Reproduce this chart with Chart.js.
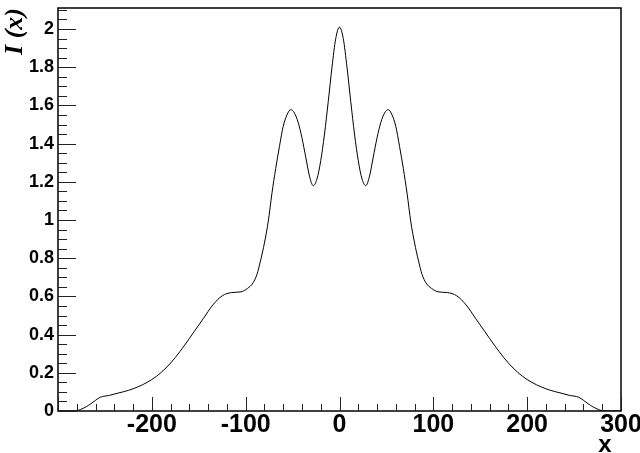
<!DOCTYPE html>
<html>
<head>
<meta charset="utf-8">
<script src="https://cdn.jsdelivr.net/npm/chart.js@4.4.0/dist/chart.umd.min.js"></script>
<style>
  html, body { margin: 0; padding: 0; background: #fff; }
  #wrap { width: 640px; height: 453px; position: relative; }
</style>
</head>
<body>
<div id="wrap"><canvas id="intensity"></canvas></div>
<script>
// curve I(x)
const xValues = [
  -300, -290, -282, -276, -270, -265, -260, -255, -245, -235, -225, -215, -205, -195,
  -185, -175, -165, -155, -145, -135, -125, -115, -105, -98, -92, -88, -84, -80, -76,
  -72, -68, -64, -60, -56, -52, -48, -44, -40, -36, -32, -28, -24, -20, -16, -12, -8, -4,
  0,
  4, 8, 12, 16, 20, 24, 28, 32, 36, 40, 44, 48, 52, 56, 60, 64, 68, 72,
  76, 80, 84, 88, 92, 98, 105, 115, 125, 135, 145, 155, 165, 175, 185,
  195, 205, 215, 225, 235, 245, 255, 260, 265, 270, 276, 282, 290, 300
];
const yValues = [
  0, 0, 0, 0.008, 0.022, 0.038, 0.056, 0.072, 0.082, 0.095, 0.108, 0.126, 0.15, 0.182,
  0.225, 0.28, 0.345, 0.415, 0.485, 0.555, 0.603, 0.62, 0.624, 0.642, 0.672, 0.715, 0.79, 0.88, 0.99,
  1.14, 1.27, 1.385, 1.49, 1.55, 1.578, 1.56, 1.51, 1.43, 1.33, 1.23, 1.18, 1.215, 1.31, 1.45, 1.62, 1.8, 1.95,
  2.01,
  1.95, 1.8, 1.62, 1.45, 1.31, 1.215, 1.18, 1.23, 1.33, 1.43, 1.51, 1.56, 1.578, 1.55, 1.49, 1.385, 1.27, 1.14,
  0.99, 0.88, 0.79, 0.715, 0.672, 0.642, 0.624, 0.62, 0.603, 0.555, 0.485, 0.415, 0.345, 0.28, 0.225,
  0.182, 0.15, 0.126, 0.108, 0.095, 0.082, 0.072, 0.056, 0.038, 0.022, 0.008, 0, 0, 0
];

const xTickValues = [-300, -200, -100, 0, 100, 200, 300];
const xTickLabels = ['', '-200', '-100', '0', '100', '200', '300'];
const yTickValues = [0, 0.2, 0.4, 0.6, 0.8, 1, 1.2, 1.4, 1.6, 1.8, 2];
const yTickLabels = ['0', '0.2', '0.4', '0.6', '0.8', '1', '1.2', '1.4', '1.6', '1.8', '2'];
const xTitle = 'x';

const points = xValues.map((x, i) => ({ x: x, y: yValues[i] }));

// ROOT style frame with ticks pointing inwards
const frameTicks = {
  id: 'frameTicks',
  afterDraw(chart) {
    const ctx = chart.ctx;
    const area = chart.chartArea;
    const xs = chart.scales.x;
    const ys = chart.scales.y;
    ctx.save();
    ctx.strokeStyle = '#000';
    ctx.lineWidth = 1.5;
    ctx.strokeRect(area.left, area.top, area.right - area.left, area.bottom - area.top);

    ctx.lineWidth = 1;
    ctx.strokeStyle = '#222';
    ctx.beginPath();
    for (let v = -300; v <= 300; v += 20) {
      const px = Math.round(xs.getPixelForValue(v)) + 0.5;
      const len = (v % 100 === 0) ? 14 : 7;
      ctx.moveTo(px, area.bottom);
      ctx.lineTo(px, area.bottom - len);
    }
    for (let i = 0; i <= 42; i++) {
      const v = i * 0.05;
      if (v > ys.max) break;
      const py = Math.round(ys.getPixelForValue(v)) + 0.5;
      const len = (i % 4 === 0) ? 18 : 9;
      ctx.moveTo(area.left, py);
      ctx.lineTo(area.left + len, py);
    }
    ctx.stroke();

    // axis title at the lower right, below the last label
    ctx.fillStyle = '#000';
    ctx.font = 'bold 24px "Liberation Sans"';
    ctx.textAlign = 'center';
    ctx.textBaseline = 'alphabetic';
    ctx.fillText(xTitle, xs.getPixelForValue(300) - 16, 452);
    ctx.restore();
  }
};

new Chart(document.getElementById('intensity'), {
  type: 'scatter',
  data: {
    datasets: [{
      label: 'I(x)',
      data: points,
      showLine: true,
      borderColor: '#000',
      borderWidth: 1,
      pointRadius: 0,
      cubicInterpolationMode: 'monotone',
      fill: false
    }]
  },
  options: {
    responsive: true,
    maintainAspectRatio: false,
    animation: false,
    layout: { padding: { top: 8, right: 19, left: 0, bottom: 0 } },
    plugins: {
      legend: { display: false },
      tooltip: { enabled: false }
    },
    scales: {
      x: {
        type: 'linear',
        min: -300,
        max: 300,
        afterBuildTicks: (scale) => { scale.ticks = xTickValues.map(v => ({ value: v })); },
        afterFit: (scale) => {
          scale.height = 42;
          scale.paddingLeft = 0;
          scale.paddingRight = 0;
        },
        grid: { display: false, drawTicks: false },
        border: { display: false },
        ticks: {
          autoSkip: false,
          maxRotation: 0,
          padding: -1,
          color: '#000',
          font: { family: 'Liberation Sans', size: 25, weight: 'bold' },
          callback: (value, index) => xTickLabels[index]
        }
      },
      y: {
        type: 'linear',
        min: 0,
        max: 2.11,
        afterBuildTicks: (scale) => { scale.ticks = yTickValues.map(v => ({ value: v })); },
        afterFit: (scale) => {
          scale.width = 58;
          scale.paddingTop = 0;
          scale.paddingBottom = 0;
        },
        grid: { display: false, drawTicks: false },
        border: { display: false },
        ticks: {
          autoSkip: false,
          padding: 4,
          color: '#000',
          font: { family: 'Liberation Sans', size: 18, weight: 'bold' },
          callback: (value, index) => yTickLabels[index]
        },
        title: {
          display: true,
          text: 'I (x)',
          align: 'end',
          color: '#000',
          padding: { top: 0, bottom: 0 },
          font: { family: 'Liberation Serif', size: 26, weight: 'bold', style: 'italic', lineHeight: 1.2 }
        }
      }
    }
  },
  plugins: [frameTicks]
});
</script>
</body>
</html>
